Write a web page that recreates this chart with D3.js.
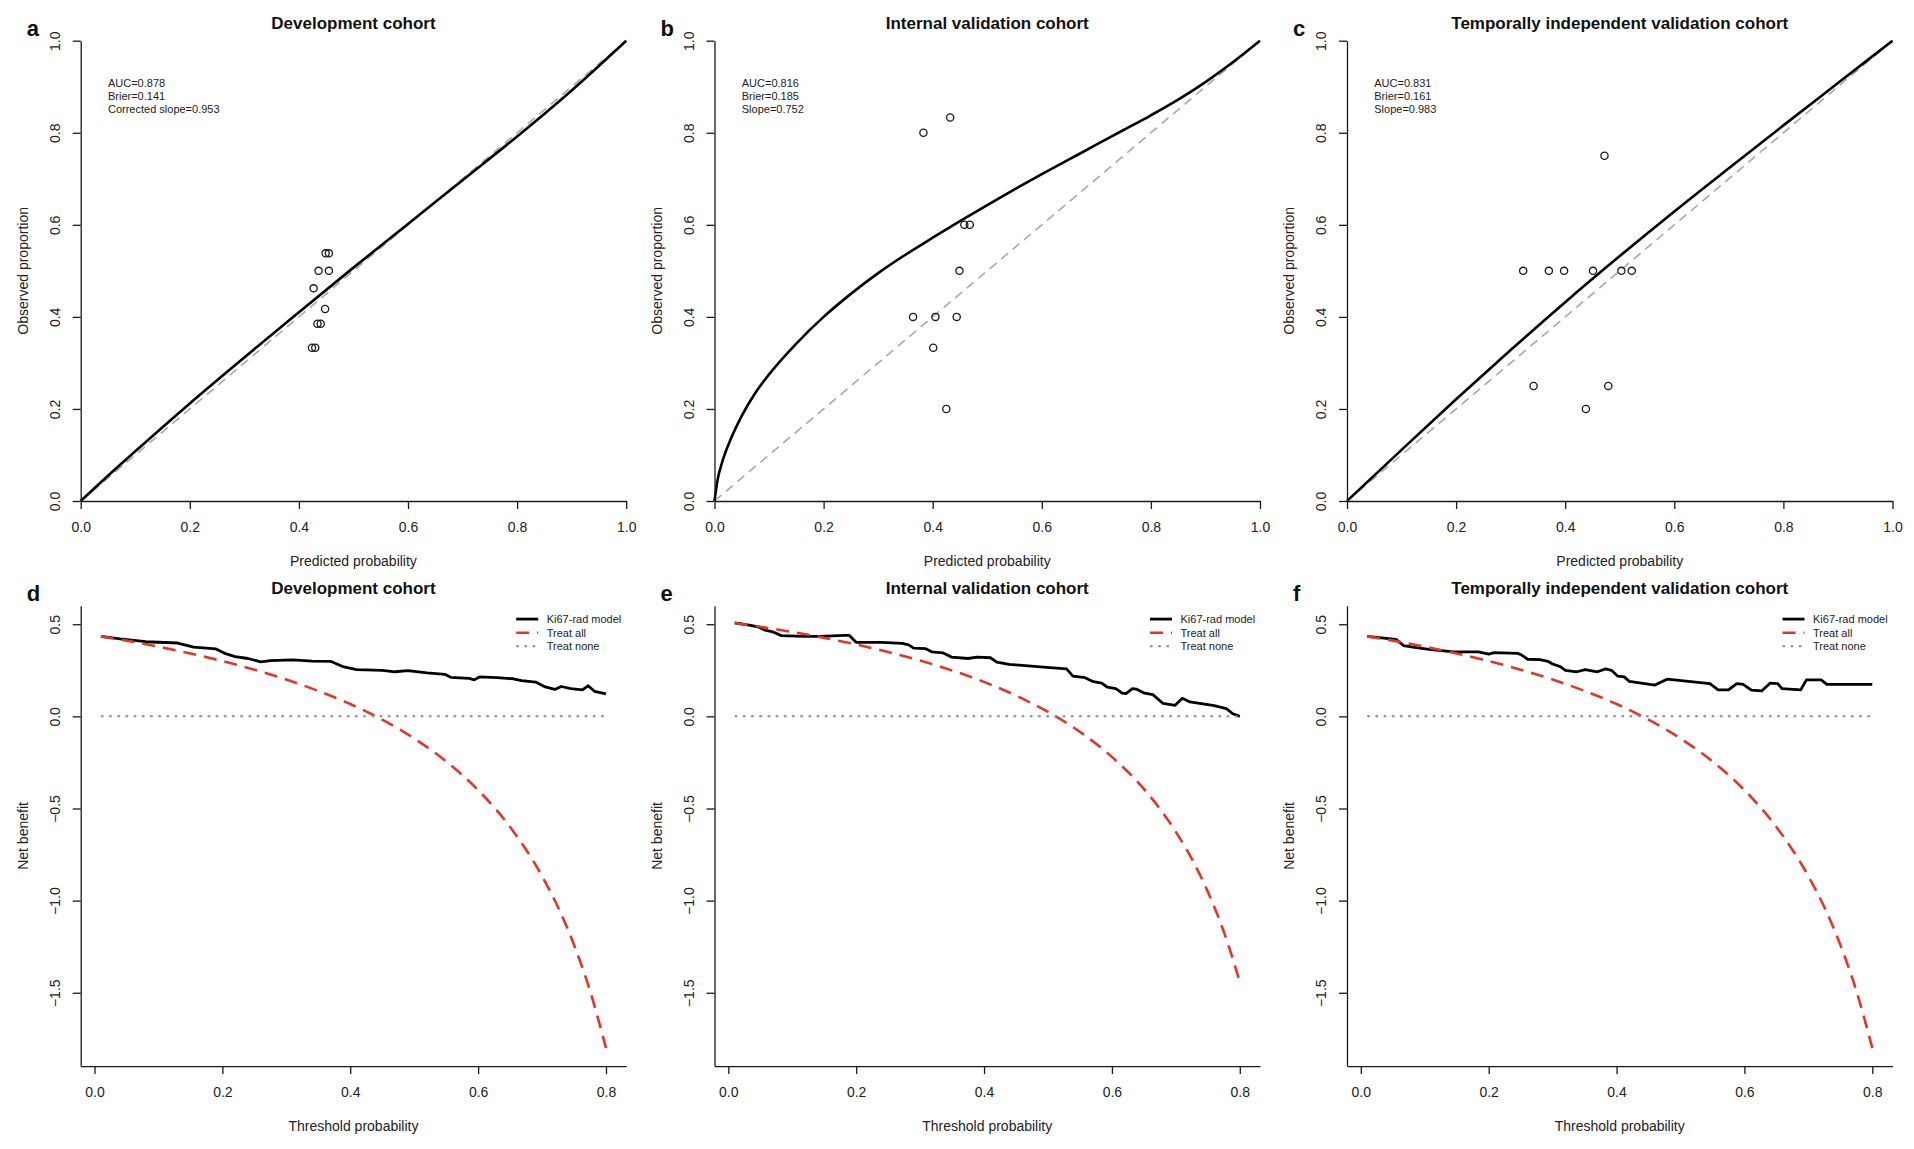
<!DOCTYPE html>
<html>
<head>
<meta charset="utf-8">
<script src="https://cdn.jsdelivr.net/npm/d3@7"></script>
<style>
  body { margin: 0; background: #fff; }
  svg { display: block; font-family: "Liberation Sans", Arial, Helvetica, sans-serif; }
</style>
</head>
<body>
<svg id="chart" width="1914" height="1149"></svg>
<script>
// ---- data ----
const cohortTitles = ['Development cohort', 'Internal validation cohort', 'Temporally independent validation cohort']
const topLetters = ['a', 'b', 'c']
const bottomLetters = ['d', 'e', 'f']

const calTicks = [0, 0.2, 0.4, 0.6, 0.8, 1.0]
const dcaXTicks = [0, 0.2, 0.4, 0.6, 0.8]
const dcaYTicks = [0.5, 0, -0.5, -1, -1.5]
const legendLabels = ['Ki67-rad model', 'Treat all', 'Treat none']

const devStats = ['AUC=0.878', 'Brier=0.141', 'Corrected slope=0.953']
const intStats = ['AUC=0.816', 'Brier=0.185', 'Slope=0.752']
const tempStats = ['AUC=0.831', 'Brier=0.161', 'Slope=0.983']

const diagX = [0, 1]
const diagY = [0, 1]

// calibration curves
const devCurvePred = [0, 0.05, 0.1, 0.2, 0.3, 0.4, 0.5, 0.6, 0.7, 0.8, 0.9, 1.0]
const devCurveObs  = [0, 0.055, 0.108, 0.212, 0.312, 0.41, 0.507, 0.602, 0.697, 0.792, 0.892, 1.0]
const intCurvePred = [0, 0.005, 0.015, 0.03, 0.05, 0.075, 0.1, 0.15, 0.2, 0.25, 0.3, 0.35, 0.4, 0.45, 0.5, 0.55, 0.6, 0.65, 0.7, 0.75, 0.8, 0.85, 0.9, 0.95, 1.0]
const intCurveObs  = [0, 0.042, 0.088, 0.135, 0.185, 0.235, 0.275, 0.342, 0.4, 0.45, 0.495, 0.535, 0.572, 0.608, 0.643, 0.677, 0.71, 0.742, 0.774, 0.806, 0.838, 0.872, 0.91, 0.953, 1.0]
const tempCurvePred = [0, 0.1, 0.2, 0.3, 0.4, 0.5, 0.6, 0.7, 0.8, 0.9, 1.0]
const tempCurveObs  = [0, 0.111, 0.221, 0.328, 0.432, 0.532, 0.629, 0.723, 0.816, 0.908, 1.0]

// grouped observations
const devGroupPred = [0.424, 0.430, 0.427, 0.436, 0.455, 0.449, 0.455, 0.448, 0.434, 0.440]
const devGroupObs  = [0.333, 0.333, 0.462, 0.5, 0.5, 0.538, 0.538, 0.417, 0.385, 0.385]
const intGroupPred = [0.383, 0.432, 0.458, 0.468, 0.449, 0.364, 0.405, 0.444, 0.401, 0.425]
const intGroupObs  = [0.8, 0.833, 0.6, 0.6, 0.5, 0.4, 0.4, 0.4, 0.333, 0.2]
const tempGroupPred = [0.323, 0.370, 0.398, 0.451, 0.503, 0.522, 0.472, 0.342, 0.479, 0.438]
const tempGroupObs  = [0.5, 0.5, 0.5, 0.5, 0.5, 0.5, 0.75, 0.25, 0.25, 0.2]

// decision curves
const devThreshold = [0.01, 0.04, 0.08, 0.13, 0.155, 0.19, 0.205, 0.22, 0.24, 0.26, 0.275, 0.31, 0.34, 0.37, 0.39, 0.41, 0.45, 0.47, 0.49, 0.52, 0.548, 0.557, 0.586, 0.594, 0.602, 0.63, 0.655, 0.668, 0.69, 0.705, 0.72, 0.73, 0.745, 0.763, 0.772, 0.782, 0.8]
const devModelNB   = [0.434, 0.420, 0.405, 0.398, 0.376, 0.366, 0.340, 0.324, 0.314, 0.296, 0.302, 0.306, 0.300, 0.298, 0.268, 0.254, 0.250, 0.242, 0.248, 0.236, 0.228, 0.212, 0.206, 0.198, 0.214, 0.210, 0.204, 0.194, 0.186, 0.160, 0.146, 0.162, 0.150, 0.144, 0.166, 0.136, 0.122]
const intThreshold = [0.01, 0.035, 0.048, 0.057, 0.07, 0.083, 0.118, 0.144, 0.182, 0.189, 0.2, 0.221, 0.24, 0.272, 0.282, 0.29, 0.308, 0.318, 0.336, 0.349, 0.375, 0.389, 0.41, 0.42, 0.439, 0.503, 0.529, 0.539, 0.558, 0.571, 0.584, 0.593, 0.606, 0.616, 0.622, 0.632, 0.638, 0.651, 0.664, 0.68, 0.699, 0.71, 0.722, 0.76, 0.779, 0.789, 0.8]
const intModelNB   = [0.507, 0.494, 0.484, 0.468, 0.458, 0.438, 0.434, 0.434, 0.44, 0.44, 0.402, 0.402, 0.402, 0.396, 0.388, 0.37, 0.368, 0.35, 0.344, 0.322, 0.314, 0.322, 0.318, 0.294, 0.282, 0.264, 0.258, 0.218, 0.21, 0.188, 0.18, 0.158, 0.15, 0.126, 0.124, 0.15, 0.148, 0.126, 0.118, 0.07, 0.06, 0.098, 0.078, 0.058, 0.042, 0.014, 0.0]
const tempThreshold = [0.01, 0.055, 0.067, 0.084, 0.107, 0.145, 0.184, 0.2, 0.209, 0.245, 0.251, 0.261, 0.28, 0.293, 0.3, 0.312, 0.32, 0.338, 0.351, 0.37, 0.383, 0.392, 0.402, 0.412, 0.42, 0.46, 0.479, 0.546, 0.559, 0.575, 0.588, 0.598, 0.611, 0.627, 0.64, 0.652, 0.659, 0.688, 0.697, 0.72, 0.729, 0.8]
const tempModelNB   = [0.434, 0.418, 0.384, 0.374, 0.364, 0.35, 0.35, 0.338, 0.346, 0.342, 0.334, 0.31, 0.308, 0.298, 0.284, 0.27, 0.25, 0.242, 0.254, 0.242, 0.258, 0.25, 0.218, 0.214, 0.19, 0.17, 0.202, 0.178, 0.144, 0.144, 0.178, 0.174, 0.142, 0.138, 0.18, 0.178, 0.15, 0.144, 0.198, 0.198, 0.174, 0.174]

const treatAllThreshold = [0.01, 0.05, 0.1, 0.15, 0.2, 0.25, 0.3, 0.35, 0.4, 0.45, 0.5, 0.55, 0.6, 0.65, 0.7, 0.725, 0.75, 0.775, 0.8]
const devTreatAll  = [0.434, 0.411, 0.378, 0.341, 0.30, 0.253, 0.20, 0.138, 0.067, -0.018, -0.12, -0.244, -0.40, -0.60, -0.867, -1.036, -1.24, -1.489, -1.80]
const intTreatAll  = [0.507, 0.486, 0.458, 0.426, 0.390, 0.349, 0.303, 0.249, 0.187, 0.113, 0.024, -0.084, -0.220, -0.394, -0.627, -0.774, -0.952, -1.169, -1.44]
const tempTreatAll = [0.434, 0.411, 0.378, 0.341, 0.30, 0.253, 0.20, 0.138, 0.067, -0.018, -0.12, -0.244, -0.40, -0.60, -0.867, -1.036, -1.24, -1.489, -1.80]

const treatNoneThreshold = [0.01, 0.8]
const treatNoneNB = [0, 0]

// ---- layout ----
const colLeft = [80.7, 714.5, 1347]
const rowTop = [40.7, 605.8]
const plotW = 545.5
const plotH = 460.3
const dcaXDomain = [-0.0216, 0.8316]
const dcaYDomain = [-1.898, 0.6]

const ink = '#1a1a1a'
const red = '#e3352b'

const svg = d3.select('#chart')
svg.append('rect').attr('width', 1914).attr('height', 1149).attr('fill', '#fff')

const zip = (xs, ys) => xs.map((v, i) => [v, ys[i]])

function styleAxis(sel) {
    sel.selectAll('path.domain').attr('stroke', ink).attr('stroke-width', 1.3)
    sel.selectAll('.tick line').attr('stroke', ink).attr('stroke-width', 1.3)
    sel.selectAll('.tick text')
        .attr('fill', '#222')
        .style('font-size', '14px')
        .style('font-family', '"Liberation Sans", Arial, sans-serif')
}

function drawAxes(g, x, y, xTicks, yTicks, xTitle, yTitle) {
    const fmt = d => d3.format('.1f')(d).replace('-', '\u2212')

    const xa = g.append('g')
        .attr('transform', `translate(0,${plotH})`)
        .call(d3.axisBottom(x).tickValues(xTicks).tickFormat(fmt).tickSize(8).tickSizeOuter(0).tickPadding(13))
    styleAxis(xa)

    const ya = g.append('g')
        .call(d3.axisLeft(y).tickValues(yTicks).tickFormat(fmt).tickSize(8).tickSizeOuter(0))
    styleAxis(ya)
    ya.selectAll('.tick text')
        .attr('x', null).attr('dy', null)
        .attr('text-anchor', 'middle')
        .attr('transform', 'translate(-21,0) rotate(-90)')

    g.append('text')
        .attr('x', plotW / 2).attr('y', plotH + 65)
        .attr('text-anchor', 'middle')
        .attr('fill', '#222')
        .style('font-size', '14px')
        .text(xTitle)

    g.append('text')
        .attr('transform', `translate(-53,${plotH / 2}) rotate(-90)`)
        .attr('text-anchor', 'middle')
        .attr('fill', '#222')
        .style('font-size', '14px')
        .text(yTitle)
}

function drawHeader(g, title, letter) {
    g.append('text')
        .attr('x', plotW / 2).attr('y', -12)
        .attr('text-anchor', 'middle')
        .attr('fill', '#111')
        .style('font-size', '17px').style('font-weight', 'bold')
        .text(title)
    g.append('text')
        .attr('x', -54).attr('y', -5)
        .attr('fill', '#111')
        .style('font-size', '22px').style('font-weight', 'bold')
        .text(letter)
}

function calibPanel(i, curvePred, curveObs, groupPred, groupObs, stats) {
    const g = svg.append('g').attr('transform', `translate(${colLeft[i]},${rowTop[0]})`)
    const x = d3.scaleLinear().domain([0, 1]).range([0, plotW])
    const y = d3.scaleLinear().domain([0, 1]).range([plotH, 0])
    const line = d3.line().x(d => x(d[0])).y(d => y(d[1]))

    drawHeader(g, cohortTitles[i], topLetters[i])

    g.append('path')
        .datum(zip(diagX, diagY))
        .attr('d', line)
        .attr('fill', 'none')
        .attr('stroke', '#a8a8a8')
        .attr('stroke-width', 1.6)
        .attr('stroke-dasharray', '9,6')

    g.append('path')
        .datum(zip(curvePred, curveObs))
        .attr('d', line.curve(d3.curveMonotoneX))
        .attr('fill', 'none')
        .attr('stroke', '#000')
        .attr('stroke-width', 2.6)

    g.selectAll('circle.group')
        .data(zip(groupPred, groupObs))
        .join('circle')
        .attr('class', 'group')
        .attr('cx', d => x(d[0]))
        .attr('cy', d => y(d[1]))
        .attr('r', 3.6)
        .attr('fill', 'none')
        .attr('stroke', ink)
        .attr('stroke-width', 1.3)

    g.append('g')
        .selectAll('text')
        .data(stats)
        .join('text')
        .attr('x', x(0.05))
        .attr('y', (d, k) => y(0.9) + k * 13)
        .attr('fill', '#222')
        .style('font-size', '11px')
        .text(d => d)

    drawAxes(g, x, y, calTicks, calTicks, 'Predicted probability', 'Observed proportion')
}

function dcaPanel(i, threshold, modelNB, treatAll) {
    const g = svg.append('g').attr('transform', `translate(${colLeft[i]},${rowTop[1]})`)
    const x = d3.scaleLinear().domain(dcaXDomain).range([0, plotW])
    const y = d3.scaleLinear().domain(dcaYDomain).range([plotH, 0])
    const line = d3.line().x(d => x(d[0])).y(d => y(d[1]))

    drawHeader(g, cohortTitles[i], bottomLetters[i])

    g.append('path')
        .datum(zip(threshold, modelNB))
        .attr('d', line)
        .attr('fill', 'none')
        .attr('stroke', '#000')
        .attr('stroke-width', 2.8)
        .attr('stroke-linejoin', 'round')

    g.append('path')
        .datum(zip(treatAllThreshold, treatAll))
        .attr('d', d3.line().x(d => x(d[0])).y(d => y(d[1])).curve(d3.curveMonotoneX))
        .attr('fill', 'none')
        .attr('stroke', red)
        .attr('stroke-width', 2.6)
        .attr('stroke-dasharray', '13,8')

    g.append('path')
        .datum(zip(treatNoneThreshold, treatNoneNB))
        .attr('d', line)
        .attr('fill', 'none')
        .attr('stroke', '#8a8a8a')
        .attr('stroke-width', 2)
        .attr('stroke-dasharray', '2.6,5.6')

    // legend, top right
    const styles = [
        { stroke: '#000', width: 2.8, dash: null },
        { stroke: red, width: 2.6, dash: '13,8' },
        { stroke: '#8a8a8a', width: 2, dash: '2.6,5.6' }
    ]
    const lg = g.append('g').attr('transform', `translate(${plotW - 110},0)`)
    const items = lg.selectAll('g')
        .data(legendLabels)
        .join('g')
        .attr('transform', (d, k) => `translate(0,${13.3 + k * 13.6})`)
    items.append('line')
        .attr('x1', 0).attr('x2', 22)
        .attr('stroke', (d, k) => styles[k].stroke)
        .attr('stroke-width', (d, k) => styles[k].width)
        .attr('stroke-dasharray', (d, k) => styles[k].dash)
    items.append('text')
        .attr('x', 30.5).attr('dy', '0.35em')
        .attr('fill', '#222')
        .style('font-size', '11px')
        .text(d => d)

    drawAxes(g, x, y, dcaXTicks, dcaYTicks, 'Threshold probability', 'Net benefit')
}

calibPanel(0, devCurvePred, devCurveObs, devGroupPred, devGroupObs, devStats)
calibPanel(1, intCurvePred, intCurveObs, intGroupPred, intGroupObs, intStats)
calibPanel(2, tempCurvePred, tempCurveObs, tempGroupPred, tempGroupObs, tempStats)

dcaPanel(0, devThreshold, devModelNB, devTreatAll)
dcaPanel(1, intThreshold, intModelNB, intTreatAll)
dcaPanel(2, tempThreshold, tempModelNB, tempTreatAll)
</script>
</body>
</html>
